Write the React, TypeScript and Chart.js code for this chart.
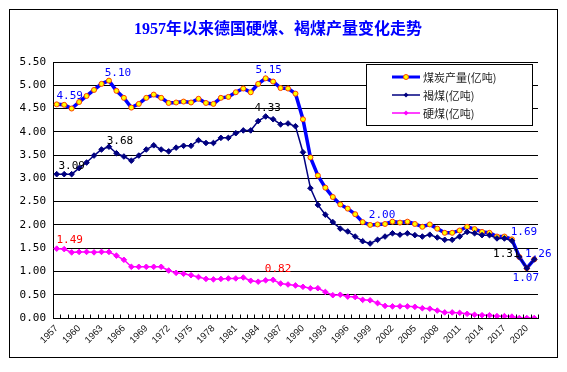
import React, { useEffect, useRef } from 'react';
import { Chart, registerables } from 'chart.js';

Chart.register(...registerables);

const TITLE = '1957年以来德国硬煤、褐煤产量变化走势';

const years = [
  '1957', '1958', '1959', '1960', '1961', '1962', '1963', '1964', '1965', '1966',
  '1967', '1968', '1969', '1970', '1971', '1972', '1973', '1974', '1975', '1976',
  '1977', '1978', '1979', '1980', '1981', '1982', '1983', '1984', '1985', '1986',
  '1987', '1988', '1989', '1990', '1991', '1992', '1993', '1994', '1995', '1996',
  '1997', '1998', '1999', '2000', '2001', '2002', '2003', '2004', '2005', '2006',
  '2007', '2008', '2009', '2010', '2011', '2012', '2013', '2014', '2015', '2016',
  '2017', '2018', '2019', '2020', '2021',
];

const seriesNames = ['煤炭产量(亿吨)', '褐煤(亿吨)', '硬煤(亿吨)'];

const totalOutput = [
  4.59, 4.58, 4.50, 4.64, 4.77, 4.90, 5.03, 5.10, 4.88, 4.73,
  4.52, 4.60, 4.73, 4.80, 4.73, 4.62, 4.63, 4.65, 4.63, 4.71,
  4.62, 4.60, 4.73, 4.75, 4.85, 4.93, 4.85, 5.03, 5.15, 5.08,
  4.94, 4.93, 4.82, 4.27, 3.45, 3.06, 2.80, 2.60, 2.44, 2.35,
  2.23, 2.06, 2.00, 2.01, 2.02, 2.07, 2.05, 2.07, 2.02, 1.96,
  2.01, 1.92, 1.83, 1.83, 1.88, 1.96, 1.91, 1.85, 1.83, 1.75,
  1.75, 1.69, 1.31, 1.07, 1.26,
];

const lignite = [
  3.09, 3.09, 3.09, 3.22, 3.34, 3.49, 3.62, 3.68, 3.54, 3.47,
  3.38, 3.49, 3.62, 3.71, 3.62, 3.58, 3.66, 3.70, 3.70, 3.82,
  3.76, 3.76, 3.87, 3.87, 3.97, 4.03, 4.03, 4.23, 4.33, 4.27,
  4.16, 4.18, 4.12, 3.56, 2.79, 2.43, 2.22, 2.06, 1.92, 1.86,
  1.75, 1.65, 1.60, 1.68, 1.75, 1.82, 1.79, 1.82, 1.78, 1.75,
  1.79, 1.73, 1.68, 1.68, 1.75, 1.85, 1.82, 1.78, 1.78, 1.71,
  1.71, 1.66, 1.31, 1.07, 1.26,
];

const hardCoal = [
  1.49, 1.48, 1.41, 1.42, 1.42, 1.41, 1.42, 1.42, 1.34, 1.25,
  1.10, 1.10, 1.10, 1.10, 1.10, 1.02, 0.97, 0.95, 0.92, 0.88,
  0.84, 0.83, 0.84, 0.85, 0.85, 0.87, 0.80, 0.78, 0.81, 0.82,
  0.74, 0.72, 0.70, 0.67, 0.64, 0.64, 0.56, 0.49, 0.50, 0.46,
  0.45, 0.39, 0.38, 0.32, 0.26, 0.25, 0.25, 0.25, 0.24, 0.21,
  0.20, 0.16, 0.12, 0.12, 0.11, 0.09, 0.07, 0.06, 0.06, 0.04,
  0.04, 0.03, 0.00, 0.00, 0.00,
];

const yTicks = [0, 0.5, 1, 1.5, 2, 2.5, 3, 3.5, 4, 4.5, 5, 5.5];

// data labels: dataset index, point index, colour, offset from point
const pointLabels = [
  { ds: 0, i: 0, color: '#0000FF', dx: 13, dy: -8 },
  { ds: 0, i: 7, color: '#0000FF', dx: 9, dy: -7 },
  { ds: 0, i: 28, color: '#0000FF', dx: 3, dy: -8 },
  { ds: 0, i: 42, color: '#0000FF', dx: 12, dy: -10 },
  { ds: 0, i: 61, color: '#0000FF', dx: 12, dy: -7 },
  { ds: 0, i: 63, color: '#0000FF', dx: -1, dy: 10 },
  { ds: 0, i: 64, color: '#0000FF', dx: 4, dy: -5 },
  { ds: 1, i: 0, color: '#000000', dx: 15, dy: -8 },
  { ds: 1, i: 7, color: '#000000', dx: 11, dy: -6 },
  { ds: 1, i: 28, color: '#000000', dx: 2, dy: -8 },
  { ds: 1, i: 62, color: '#000000', dx: -13, dy: -3 },
  { ds: 2, i: 0, color: '#FF0000', dx: 13, dy: -9 },
  { ds: 2, i: 29, color: '#FF0000', dx: 5, dy: -11 },
];

const W = 567;
const H = 372;
const MONO = '"DejaVu Sans Mono", "Liberation Mono", monospace';
const CJK = '"Noto Sans CJK SC", "DejaVu Sans", sans-serif';

const framePlugin = {
  id: 'frame',
  beforeDraw(chart: any) {
    const ctx = chart.ctx;
    ctx.save();
    ctx.fillStyle = '#ffffff';
    ctx.fillRect(0, 0, W, H);
    ctx.strokeStyle = '#000000';
    ctx.lineWidth = 1;
    ctx.strokeRect(9.5, 9.5, 548, 348);
    ctx.fillStyle = '#0000FF';
    ctx.font = 'bold 16px "Liberation Serif", "Noto Sans CJK SC", serif';
    ctx.textAlign = 'center';
    ctx.textBaseline = 'middle';
    ctx.fillText(TITLE, 278, 30);
    ctx.restore();
  },
  afterDraw(chart: any) {
    const ctx = chart.ctx;
    const xs = chart.scales.x;
    const n = years.length;
    const bottom = Math.round(xs.top) + 0.5;
    ctx.save();
    ctx.strokeStyle = '#000000';
    ctx.lineWidth = 1;
    ctx.beginPath();
    for (let k = 0; k <= n; k++) {
      const x = Math.round(xs.left + (k * xs.width) / n) + 0.5;
      ctx.moveTo(x, bottom);
      ctx.lineTo(x, bottom - 4);
    }
    ctx.stroke();
    ctx.restore();
  },
  afterDatasetsDraw(chart: any) {
    const ctx = chart.ctx;
    ctx.save();
    // data labels
    ctx.font = '11px ' + MONO;
    ctx.textAlign = 'center';
    ctx.textBaseline = 'middle';
    for (const l of pointLabels) {
      const el = chart.getDatasetMeta(l.ds).data[l.i];
      const v = chart.data.datasets[l.ds].data[l.i] as number;
      ctx.fillStyle = l.color;
      ctx.fillText(v.toFixed(2), el.x + l.dx, el.y + l.dy);
    }
    // legend
    const bx = 366.5, by = 64.5, bw = 166, bh = 61;
    ctx.fillStyle = '#ffffff';
    ctx.fillRect(bx, by, bw, bh);
    ctx.strokeStyle = '#000000';
    ctx.lineWidth = 1;
    ctx.strokeRect(bx, by, bw, bh);
    const rows = [77, 95, 113];
    const x0 = 392, x1 = 420, xm = 406;
    // total
    ctx.strokeStyle = '#0000FF';
    ctx.lineWidth = 3;
    ctx.beginPath();
    ctx.moveTo(x0, rows[0]);
    ctx.lineTo(x1, rows[0]);
    ctx.stroke();
    ctx.beginPath();
    ctx.arc(xm, rows[0], 2.5, 0, Math.PI * 2);
    ctx.fillStyle = '#FFFF00';
    ctx.fill();
    ctx.lineWidth = 1;
    ctx.strokeStyle = '#FF4000';
    ctx.stroke();
    // lignite
    const diamond = (cx: number, cy: number, r: number, c: string) => {
      ctx.beginPath();
      ctx.moveTo(cx, cy - r);
      ctx.lineTo(cx + r, cy);
      ctx.lineTo(cx, cy + r);
      ctx.lineTo(cx - r, cy);
      ctx.closePath();
      ctx.fillStyle = c;
      ctx.fill();
    };
    ctx.strokeStyle = '#000080';
    ctx.lineWidth = 1.5;
    ctx.beginPath();
    ctx.moveTo(x0, rows[1]);
    ctx.lineTo(x1, rows[1]);
    ctx.stroke();
    diamond(xm, rows[1], 2.5, '#000080');
    ctx.strokeStyle = '#FF00FF';
    ctx.beginPath();
    ctx.moveTo(x0, rows[2]);
    ctx.lineTo(x1, rows[2]);
    ctx.stroke();
    diamond(xm, rows[2], 2.5, '#FF00FF');
    ctx.fillStyle = '#222222';
    ctx.font = '11px ' + CJK;
    ctx.textAlign = 'left';
    for (let k = 0; k < 3; k++) {
      ctx.fillText(seriesNames[k], 423, rows[k] + 0.5);
    }
    ctx.restore();
  },
};

export default function App() {
  const ref = useRef<HTMLCanvasElement>(null);

  useEffect(() => {
    if (!ref.current) return;
    const chart = new Chart(ref.current, {
      type: 'line',
      data: {
        labels: years,
        datasets: [
          {
            label: seriesNames[0],
            data: totalOutput,
            borderColor: '#0000FF',
            borderWidth: 3.5,
            pointStyle: 'circle',
            pointRadius: 2.5,
            pointBackgroundColor: '#FFFF00',
            pointBorderColor: '#FF4000',
            pointBorderWidth: 1,
            tension: 0,
            order: 2,
          },
          {
            label: seriesNames[1],
            data: lignite,
            borderColor: '#000080',
            borderWidth: 1.5,
            pointStyle: 'rectRot',
            pointRadius: 2.8,
            pointBackgroundColor: '#000080',
            pointBorderColor: '#000080',
            pointBorderWidth: 1,
            tension: 0,
            order: 0,
          },
          {
            label: seriesNames[2],
            data: hardCoal,
            borderColor: '#FF00FF',
            borderWidth: 1.5,
            pointStyle: 'rectRot',
            pointRadius: 2.8,
            pointBackgroundColor: '#FF00FF',
            pointBorderColor: '#FF00FF',
            pointBorderWidth: 1,
            tension: 0,
            order: 1,
          },
        ],
      },
      options: {
        responsive: false,
        animation: false,
        devicePixelRatio: 1,
        layout: { padding: { left: 0, top: 62, right: 29, bottom: 0 } },
        plugins: {
          legend: { display: false },
          title: { display: false },
          tooltip: { enabled: false },
        },
        scales: {
          x: {
            type: 'category',
            offset: true,
            grid: { display: false, drawTicks: false },
            border: { display: true, color: '#000000', width: 1 },
            ticks: {
              autoSkip: false,
              minRotation: 45,
              maxRotation: 45,
              padding: 5,
              color: '#111111',
              font: { family: '"Liberation Sans", sans-serif', size: 9.5 },
              callback: (_v: any, idx: number) => (idx % 3 === 0 ? years[idx] : ''),
            },
            afterFit: (s: any) => {
              s.height = 54;
            },
          },
          y: {
            min: 0,
            max: 5.5,
            afterBuildTicks: (s: any) => {
              s.ticks = yTicks.map((v) => ({ value: v }));
            },
            grid: { color: '#000000', lineWidth: 1, drawTicks: false },
            border: { display: true, color: '#000000', width: 1 },
            ticks: {
              padding: 7,
              color: '#000000',
              font: { family: MONO, size: 11 },
              callback: (v: any) => Number(v).toFixed(2),
            },
            afterFit: (s: any) => {
              s.width = 53;
            },
          },
        },
      },
      plugins: [framePlugin],
    });
    return () => chart.destroy();
  }, []);

  return (
    <div style={{ position: 'absolute', left: 0, top: 0, width: W, height: H }}>
      <canvas ref={ref} width={W} height={H} style={{ display: 'block' }} />
    </div>
  );
}
